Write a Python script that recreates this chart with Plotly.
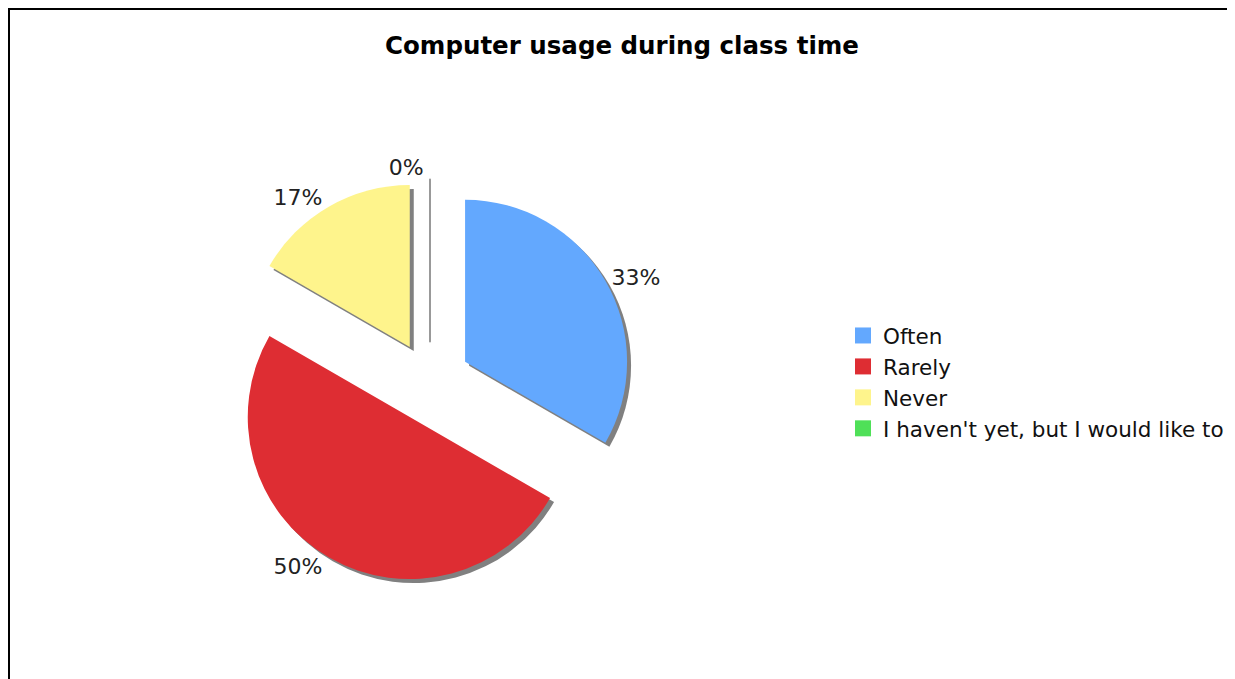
import plotly.graph_objects as go

labels = ["Often", "Rarely", "Never", "I haven't yet, but I would like to"]
values = [2, 3, 1, 0]
colors = ["#63a8fe", "#de2d33", "#fef48c", "#4fe058"]
pulls = [0.25, 0.25, 0.25, 0.25]

W, H = 1235, 679
OFF = 8  # page body margin
cx, cy, half = 430 - OFF, 382 - OFF, 202.5  # pie box center & half-size in px
sh = 4  # shadow offset px

def dom(dx=0, dy=0):
    return dict(x=[(cx - half + dx) / W, (cx + half + dx) / W],
                y=[1 - (cy + half + dy) / H, 1 - (cy - half + dy) / H])

fig = go.Figure()
# shadow
fig.add_trace(go.Pie(
    labels=labels, values=values, pull=pulls, sort=False, direction="clockwise",
    rotation=0, marker=dict(colors=["#808080"] * 4), textinfo="none",
    hoverinfo="skip", showlegend=False, domain=dom(sh, sh)))
# main
fig.add_trace(go.Pie(
    labels=labels, values=values, pull=pulls, sort=False, direction="clockwise",
    rotation=0,
    marker=dict(colors=colors,
                line=dict(color=["rgba(0,0,0,0)"] * 3 + ["#999999"], width=[0, 0, 0, 2])),
    texttemplate="%{percent:.0%}", textposition="outside",
    textfont=dict(family="DejaVu Sans", size=22, color="#222222"),
    showlegend=False, domain=dom()))

# legend entries with larger square swatches
for lab, col in zip(labels, colors):
    fig.add_trace(go.Scatter(x=[None], y=[None], mode="markers", name=lab,
                             marker=dict(symbol="square", size=16, color=col),
                             hoverinfo="skip", showlegend=True))

fig.update_layout(
    width=W, height=H,
    margin=dict(l=0, r=0, t=0, b=0),
    paper_bgcolor="white", plot_bgcolor="white",
    xaxis=dict(visible=False), yaxis=dict(visible=False),
    title=dict(text="<b>Computer usage during class time</b>", x=(622 - OFF) / W, xanchor="center",
               y=1 - (45 - OFF) / H, yanchor="middle",
               font=dict(family="DejaVu Sans", size=24.5, color="black")),
    legend=dict(x=(843 - OFF) / W, y=1 - (315 - OFF) / H, xanchor="left", yanchor="top",
                font=dict(family="DejaVu Sans", size=21.5, color="#111111"),
                bgcolor="rgba(0,0,0,0)"),
    shapes=[dict(type="rect", xref="paper", yref="paper",
                 x0=1 / W, x1=(1231 - OFF) / W, y0=-0.05, y1=1 - 1 / H,
                 line=dict(color="black", width=2), layer="below")],
)

fig.write_html("out.html")
